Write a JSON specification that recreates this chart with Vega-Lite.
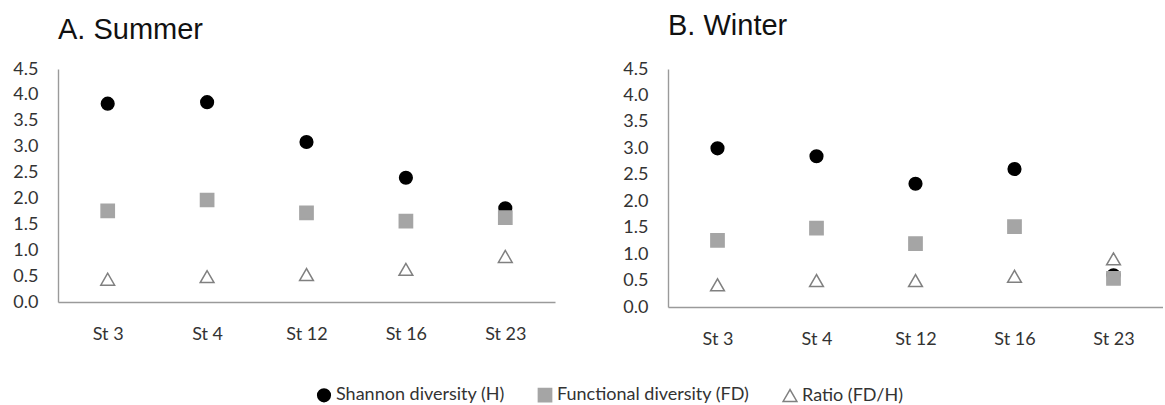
{
  "$schema": "https://vega.github.io/schema/vega-lite/v6.json",
  "background": "white",
  "padding": {"left": 12, "top": 12, "right": 0, "bottom": 0},
  "data": {
    "values": [
      {"season": "Summer", "station": "St 3", "series": "Shannon diversity (H)", "value": 3.83},
      {"season": "Summer", "station": "St 4", "series": "Shannon diversity (H)", "value": 3.86},
      {"season": "Summer", "station": "St 12", "series": "Shannon diversity (H)", "value": 3.09},
      {"season": "Summer", "station": "St 16", "series": "Shannon diversity (H)", "value": 2.4},
      {"season": "Summer", "station": "St 23", "series": "Shannon diversity (H)", "value": 1.81},
      {"season": "Winter", "station": "St 3", "series": "Shannon diversity (H)", "value": 3.0},
      {"season": "Winter", "station": "St 4", "series": "Shannon diversity (H)", "value": 2.85},
      {"season": "Winter", "station": "St 12", "series": "Shannon diversity (H)", "value": 2.33},
      {"season": "Winter", "station": "St 16", "series": "Shannon diversity (H)", "value": 2.61},
      {"season": "Winter", "station": "St 23", "series": "Shannon diversity (H)", "value": 0.6},
      {"season": "Summer", "station": "St 3", "series": "Functional diversity (FD)", "value": 1.76},
      {"season": "Summer", "station": "St 4", "series": "Functional diversity (FD)", "value": 1.97},
      {"season": "Summer", "station": "St 12", "series": "Functional diversity (FD)", "value": 1.72},
      {"season": "Summer", "station": "St 16", "series": "Functional diversity (FD)", "value": 1.56},
      {"season": "Summer", "station": "St 23", "series": "Functional diversity (FD)", "value": 1.63},
      {"season": "Winter", "station": "St 3", "series": "Functional diversity (FD)", "value": 1.26},
      {"season": "Winter", "station": "St 4", "series": "Functional diversity (FD)", "value": 1.49},
      {"season": "Winter", "station": "St 12", "series": "Functional diversity (FD)", "value": 1.2},
      {"season": "Winter", "station": "St 16", "series": "Functional diversity (FD)", "value": 1.52},
      {"season": "Winter", "station": "St 23", "series": "Functional diversity (FD)", "value": 0.54},
      {"season": "Summer", "station": "St 3", "series": "Ratio (FD/H)", "value": 0.44},
      {"season": "Summer", "station": "St 4", "series": "Ratio (FD/H)", "value": 0.49},
      {"season": "Summer", "station": "St 12", "series": "Ratio (FD/H)", "value": 0.53},
      {"season": "Summer", "station": "St 16", "series": "Ratio (FD/H)", "value": 0.63},
      {"season": "Summer", "station": "St 23", "series": "Ratio (FD/H)", "value": 0.88},
      {"season": "Winter", "station": "St 3", "series": "Ratio (FD/H)", "value": 0.42},
      {"season": "Winter", "station": "St 4", "series": "Ratio (FD/H)", "value": 0.5},
      {"season": "Winter", "station": "St 12", "series": "Ratio (FD/H)", "value": 0.5},
      {"season": "Winter", "station": "St 16", "series": "Ratio (FD/H)", "value": 0.58},
      {"season": "Winter", "station": "St 23", "series": "Ratio (FD/H)", "value": 0.91}
    ]
  },
  "bounds": "flush",
  "spacing": 113,
  "hconcat": [
    {
      "title": {"text": "A. Summer", "offset": 15},
      "width": 497,
      "height": 233,
      "transform": [{"filter": "datum.season === 'Summer'"}],
      "mark": {"type": "point", "filled": true, "opacity": 1, "strokeWidth": 1.5},
      "encoding": {
        "x": {"field": "station", "type": "nominal", "sort": ["St 3", "St 4", "St 12", "St 16", "St 23"],
              "axis": {"title": null, "labelAngle": 0, "ticks": false, "labelPadding": 23}},
        "y": {"field": "value", "type": "quantitative", "scale": {"domain": [0, 4.5], "nice": false},
              "axis": {"title": null, "values": [0, 0.5, 1, 1.5, 2, 2.5, 3, 3.5, 4, 4.5], "format": ".1f", "grid": false, "ticks": false, "labelPadding": 20}},
        "shape": {"field": "series", "type": "nominal", "scale": {"domain": ["Shannon diversity (H)", "Functional diversity (FD)", "Ratio (FD/H)"], "range": ["circle", "square", "triangle-up"]}, "legend": {"title": null, "orient": "none", "direction": "horizontal", "legendX": 257, "legendY": 317}},
        "fill": {"field": "series", "type": "nominal", "scale": {"domain": ["Shannon diversity (H)", "Functional diversity (FD)", "Ratio (FD/H)"], "range": ["#000000", "#a5a5a5", "#ffffff"]}, "legend": {"title": null, "orient": "none", "direction": "horizontal", "legendX": 257, "legendY": 317}},
        "stroke": {"field": "series", "type": "nominal", "scale": {"domain": ["Shannon diversity (H)", "Functional diversity (FD)", "Ratio (FD/H)"], "range": ["#000000", "#a5a5a5", "#808080"]}, "legend": {"title": null, "orient": "none", "direction": "horizontal", "legendX": 257, "legendY": 317}},
        "size": {"field": "series", "type": "nominal", "scale": {"domain": ["Shannon diversity (H)", "Functional diversity (FD)", "Ratio (FD/H)"], "range": [160, 190, 230]}, "legend": {"title": null, "orient": "none", "direction": "horizontal", "legendX": 257, "legendY": 317}}
      }
    },
    {
      "title": {"text": "B. Winter", "offset": 19},
      "width": 495,
      "height": 238,
      "transform": [{"filter": "datum.season === 'Winter'"}],
      "mark": {"type": "point", "filled": true, "opacity": 1, "strokeWidth": 1.5},
      "encoding": {
        "x": {"field": "station", "type": "nominal", "sort": ["St 3", "St 4", "St 12", "St 16", "St 23"],
              "axis": {"title": null, "labelAngle": 0, "ticks": false, "labelPadding": 23}},
        "y": {"field": "value", "type": "quantitative", "scale": {"domain": [0, 4.5], "nice": false},
              "axis": {"title": null, "values": [0, 0.5, 1, 1.5, 2, 2.5, 3, 3.5, 4, 4.5], "format": ".1f", "grid": false, "ticks": false, "labelPadding": 20}},
        "shape": {"field": "series", "type": "nominal", "scale": {"domain": ["Shannon diversity (H)", "Functional diversity (FD)", "Ratio (FD/H)"], "range": ["circle", "square", "triangle-up"]}, "legend": null},
        "fill": {"field": "series", "type": "nominal", "scale": {"domain": ["Shannon diversity (H)", "Functional diversity (FD)", "Ratio (FD/H)"], "range": ["#000000", "#a5a5a5", "#ffffff"]}, "legend": null},
        "stroke": {"field": "series", "type": "nominal", "scale": {"domain": ["Shannon diversity (H)", "Functional diversity (FD)", "Ratio (FD/H)"], "range": ["#000000", "#a5a5a5", "#808080"]}, "legend": null},
        "size": {"field": "series", "type": "nominal", "scale": {"domain": ["Shannon diversity (H)", "Functional diversity (FD)", "Ratio (FD/H)"], "range": [160, 190, 230]}, "legend": null}
      }
    }
  ],
  "resolve": {
    "scale": {"x": "independent", "y": "independent"},
    "legend": {"shape": "independent", "fill": "independent", "stroke": "independent", "size": "independent"}
  },
  "config": {
    "view": {"stroke": null},
    "font": "Lato",
    "title": {"font": "Liberation Sans", "fontSize": 29, "fontWeight": "normal", "anchor": "start", "frame": "group", "color": "#111111"},
    "axis": {"labelFont": "Lato", "labelFontSize": 18, "labelColor": "#333333", "domainColor": "#9a9a9a", "domainWidth": 1.4},
    "legend": {"labelFont": "Lato", "labelFontSize": 18, "labelColor": "#333333", "labelLimit": 400, "columnPadding": 30, "labelOffset": 3, "symbolStrokeWidth": 1.5, "padding": 0}
  }
}
